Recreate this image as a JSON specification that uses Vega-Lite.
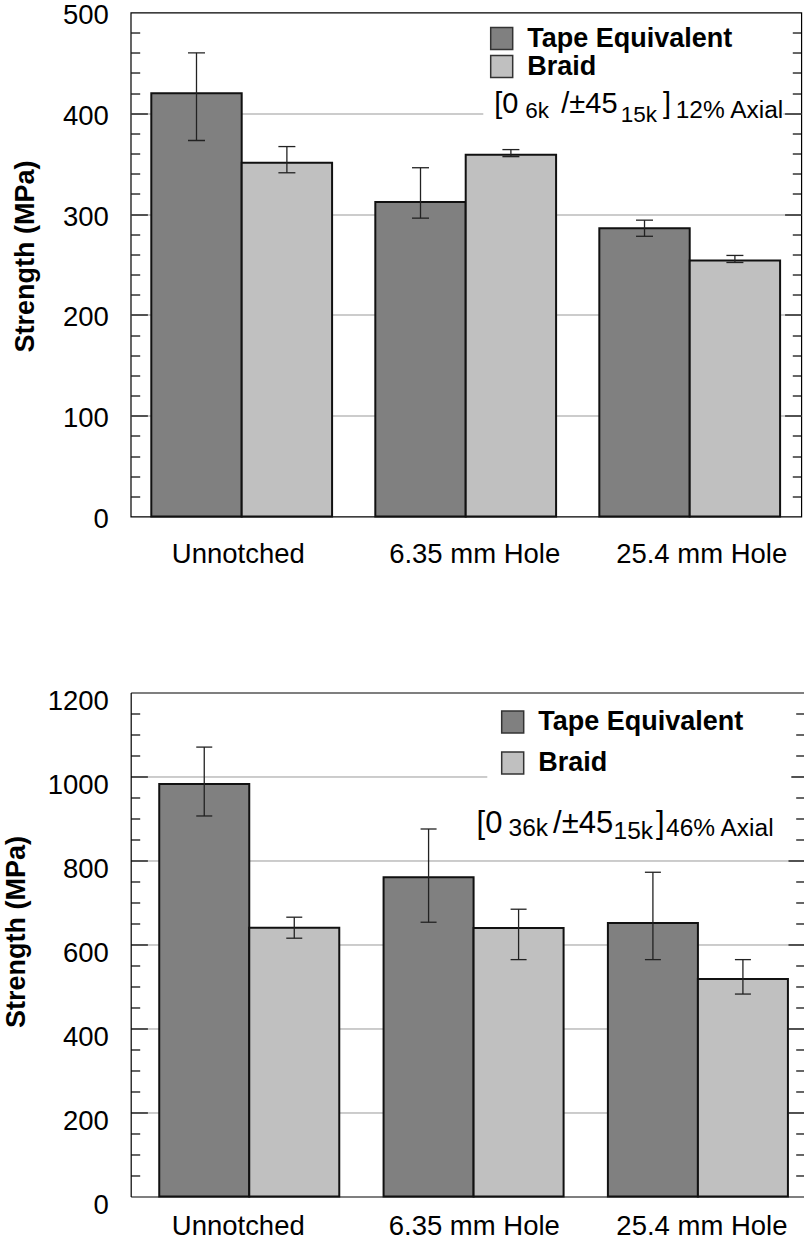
{
  "$schema": "https://vega.github.io/schema/vega-lite/v6.json",
  "padding": {"left": 2.7, "top": 0.5, "right": 0, "bottom": 0},
  "background": "white",
  "config": {
    "font": "Liberation Sans",
    "view": {"stroke": "black", "strokeWidth": 1.2},
    "axis": {"labelFont": "Liberation Sans", "titleFont": "Liberation Sans", "labelColor": "black", "titleColor": "black", "tickColor": "black", "domainColor": "black", "tickWidth": 1.2, "domainWidth": 1.2, "gridColor": "#999999", "gridWidth": 1, "gridOpacity": 1},
    "legend": {"labelFont": "Liberation Sans"},
    "text": {"font": "Liberation Sans", "color": "black"}
  },
  "datasets": {
    "top": [
      {"cond": "Unnotched", "series": "Tape Equivalent", "value": 420, "lo": 373, "hi": 460},
      {"cond": "Unnotched", "series": "Braid", "value": 351, "lo": 341, "hi": 367},
      {"cond": "6.35 mm Hole", "series": "Tape Equivalent", "value": 312, "lo": 296, "hi": 346},
      {"cond": "6.35 mm Hole", "series": "Braid", "value": 359, "lo": 357, "hi": 364},
      {"cond": "25.4 mm Hole", "series": "Tape Equivalent", "value": 286, "lo": 278, "hi": 294},
      {"cond": "25.4 mm Hole", "series": "Braid", "value": 254, "lo": 252, "hi": 259}
    ],
    "bottom": [
      {"cond": "Unnotched", "series": "Tape Equivalent", "value": 982, "lo": 906, "hi": 1070},
      {"cond": "Unnotched", "series": "Braid", "value": 640, "lo": 615, "hi": 665},
      {"cond": "6.35 mm Hole", "series": "Tape Equivalent", "value": 760, "lo": 653, "hi": 875},
      {"cond": "6.35 mm Hole", "series": "Braid", "value": 639, "lo": 564, "hi": 684},
      {"cond": "25.4 mm Hole", "series": "Tape Equivalent", "value": 651, "lo": 564, "hi": 772},
      {"cond": "25.4 mm Hole", "series": "Braid", "value": 518, "lo": 482, "hi": 564}
    ]
  },
  "columns": 1,
  "align": "none",
  "spacing": 118,
  "resolve": {
    "scale": {"x": "independent", "y": "independent", "color": "independent", "xOffset": "independent"},
    "legend": {"color": "independent"},
    "axis": {"x": "independent", "y": "independent"}
  },
  "concat": [
    {
      "width": 670.6,
      "height": 504,
      "data": {"name": "top"},
      "resolve": {"axis": {"x": "independent", "y": "independent"}},
      "layer": [
        {
          "data": {"values": [{}]},
          "mark": {"type": "rect", "fill": "white", "stroke": null, "opacity": 1, "xOffset": 17.6, "x2Offset": 93.6},
          "encoding": {
            "x": {"datum": "6.35 mm Hole", "type": "nominal", "scale": {"domain": ["Unnotched", "6.35 mm Hole", "25.4 mm Hole"], "paddingInner": 0.193, "paddingOuter": 0.0933, "align": 0.493}, "axis": null},
            "x2": {"datum": "25.4 mm Hole"},
            "y": {"datum": 385, "type": "quantitative", "scale": {"domain": [0, 500], "nice": false, "zero": true},
              "axis": {"orient": "right", "values": [20, 40, 60, 80, 120, 140, 160, 180, 220, 240, 260, 280, 320, 340, 360, 380, 420, 440, 460, 480], "ticks": true, "tickSize": -9, "labels": false, "domain": false, "grid": false, "title": null}},
            "y2": {"datum": 415}
          }
        },
        {
          "mark": {"type": "bar", "stroke": "#111111", "strokeWidth": 2, "opacity": 1},
          "encoding": {
            "x": {"field": "cond", "type": "nominal", "title": null,
              "scale": {"domain": ["Unnotched", "6.35 mm Hole", "25.4 mm Hole"], "paddingInner": 0.193, "paddingOuter": 0.0933, "align": 0.493},
              "axis": {"orient": "bottom", "title": null, "ticks": false, "domain": false, "grid": false, "labels": true, "labelFontSize": 27.5, "labelPadding": 46, "labelBaseline": "alphabetic", "labelAngle": 0, "labelLimit": 400,
                "labelOffset": {"condition": [{"test": "datum.value === '6.35 mm Hole'", "value": 9}, {"test": "datum.value === '25.4 mm Hole'", "value": 12}], "value": -3.4}}},
            "xOffset": {"field": "series", "type": "nominal", "scale": {"domain": ["Tape Equivalent", "Braid"]}},
            "y": {"field": "value", "type": "quantitative", "scale": {"domain": [0, 500], "nice": false, "zero": true},
              "axis": {"orient": "left", "values": [0, 100, 200, 300, 400, 500], "format": "d", "ticks": false, "domain": false, "grid": false, "labelFontSize": 27.5, "labelPadding": 22.4, "labelOffset": 3, "labelBaseline": "middle",
                "title": "Strength (MPa)", "titleFontSize": 27, "titleFontWeight": "bold", "titleAngle": -90, "titleAlign": "center", "titleBaseline": "top", "titleX": -118.4, "titleY": 243.5}},
            "color": {"field": "series", "type": "nominal", "scale": {"domain": ["Tape Equivalent", "Braid"], "range": ["#808080", "#c0c0c0"]},
              "legend": {"orient": "none", "legendX": 357.5, "legendY": 12.5, "title": null, "symbolType": "square", "symbolSize": 484, "symbolStrokeColor": "#333333", "symbolStrokeWidth": 1.5, "symbolOpacity": 1, "labelFontSize": 27, "labelFontWeight": "bold", "labelColor": "black", "labelOffset": 12, "labelLimit": 400, "rowPadding": -2, "padding": 0}}
          }
        },
        {
          "mark": {"type": "rule", "color": "#222222", "strokeWidth": 1.3, "opacity": 1},
          "encoding": {
            "x": {"field": "cond", "type": "nominal", "scale": {"domain": ["Unnotched", "6.35 mm Hole", "25.4 mm Hole"], "paddingInner": 0.193, "paddingOuter": 0.0933, "align": 0.493}, "axis": null},
            "xOffset": {"field": "series", "type": "nominal", "scale": {"domain": ["Tape Equivalent", "Braid"]}},
            "y": {"field": "lo", "type": "quantitative", "scale": {"domain": [0, 500], "nice": false, "zero": true},
              "axis": {"orient": "left", "values": [100, 200, 300, 400], "ticks": true, "tickSize": -16.7, "labels": false, "domain": false, "grid": true, "title": null}},
            "y2": {"field": "hi"}
          }
        },
        {
          "mark": {"type": "tick", "color": "#222222", "size": 17, "thickness": 1.3, "opacity": 1},
          "encoding": {
            "x": {"field": "cond", "type": "nominal", "scale": {"domain": ["Unnotched", "6.35 mm Hole", "25.4 mm Hole"], "paddingInner": 0.193, "paddingOuter": 0.0933, "align": 0.493}, "axis": null},
            "xOffset": {"field": "series", "type": "nominal", "scale": {"domain": ["Tape Equivalent", "Braid"]}},
            "y": {"field": "lo", "type": "quantitative", "scale": {"domain": [0, 500], "nice": false, "zero": true},
              "axis": {"orient": "left", "values": [20, 40, 60, 80, 120, 140, 160, 180, 220, 240, 260, 280, 320, 340, 360, 380, 420, 440, 460, 480], "ticks": true, "tickSize": -9, "labels": false, "domain": false, "grid": false, "title": null}}
          }
        },
        {
          "mark": {"type": "tick", "color": "#222222", "size": 17, "thickness": 1.3, "opacity": 1},
          "encoding": {
            "x": {"field": "cond", "type": "nominal", "scale": {"domain": ["Unnotched", "6.35 mm Hole", "25.4 mm Hole"], "paddingInner": 0.193, "paddingOuter": 0.0933, "align": 0.493}, "axis": null},
            "xOffset": {"field": "series", "type": "nominal", "scale": {"domain": ["Tape Equivalent", "Braid"]}},
            "y": {"field": "hi", "type": "quantitative", "scale": {"domain": [0, 500], "nice": false, "zero": true},
              "axis": {"orient": "right", "values": [100, 200, 300, 400], "ticks": true, "tickSize": -16.7, "labels": false, "domain": false, "grid": false, "title": null}}
          }
        },
        {
          "data": {"values": [{"t": "[0"}]},
          "mark": {"type": "text", "align": "left", "baseline": "alphabetic", "dx": 28.6, "dy": 0, "fontSize": 29, "color": "black"},
          "encoding": {"text": {"field": "t"}, "x": {"datum": "6.35 mm Hole", "type": "nominal", "axis": null}, "y": {"datum": 400, "type": "quantitative", "axis": null}}
        },
        {
          "data": {"values": [{"t": "6k"}]},
          "mark": {"type": "text", "align": "left", "baseline": "alphabetic", "dx": 59.6, "dy": 4.7, "fontSize": 22.5, "color": "black"},
          "encoding": {"text": {"field": "t"}, "x": {"datum": "6.35 mm Hole", "type": "nominal", "axis": null}, "y": {"datum": 400, "type": "quantitative", "axis": null}}
        },
        {
          "data": {"values": [{"t": "/±45"}]},
          "mark": {"type": "text", "align": "left", "baseline": "alphabetic", "dx": 95.6, "dy": 0, "fontSize": 29, "color": "black"},
          "encoding": {"text": {"field": "t"}, "x": {"datum": "6.35 mm Hole", "type": "nominal", "axis": null}, "y": {"datum": 400, "type": "quantitative", "axis": null}}
        },
        {
          "data": {"values": [{"t": "15k"}]},
          "mark": {"type": "text", "align": "left", "baseline": "alphabetic", "dx": 155, "dy": 8.7, "fontSize": 22.5, "color": "black"},
          "encoding": {"text": {"field": "t"}, "x": {"datum": "6.35 mm Hole", "type": "nominal", "axis": null}, "y": {"datum": 400, "type": "quantitative", "axis": null}}
        },
        {
          "data": {"values": [{"t": "]"}]},
          "mark": {"type": "text", "align": "left", "baseline": "alphabetic", "dx": 197.2, "dy": 0, "fontSize": 29, "color": "black"},
          "encoding": {"text": {"field": "t"}, "x": {"datum": "6.35 mm Hole", "type": "nominal", "axis": null}, "y": {"datum": 400, "type": "quantitative", "axis": null}}
        },
        {
          "data": {"values": [{"t": "12% Axial"}]},
          "mark": {"type": "text", "align": "left", "baseline": "alphabetic", "dx": 210, "dy": 5, "fontSize": 24.5, "color": "black"},
          "encoding": {"text": {"field": "t"}, "x": {"datum": "6.35 mm Hole", "type": "nominal", "axis": null}, "y": {"datum": 400, "type": "quantitative", "axis": null}}
        }
      ]
    },
    {
      "width": 674,
      "height": 504,
      "view": {"stroke": null},
      "data": {"name": "bottom"},
      "resolve": {"axis": {"x": "independent", "y": "independent"}},
      "layer": [
        {
          "data": {"values": [{}]},
          "mark": {"type": "rect", "fill": "white", "stroke": null, "opacity": 1, "xOffset": 13.7, "x2Offset": 93.4},
          "encoding": {
            "x": {"datum": "6.35 mm Hole", "type": "nominal", "scale": {"domain": ["Unnotched", "6.35 mm Hole", "25.4 mm Hole"], "paddingInner": 0.1975, "paddingOuter": 0.101, "align": 0.63}, "axis": null},
            "x2": {"datum": "25.4 mm Hole"},
            "y": {"datum": 965, "type": "quantitative", "scale": {"domain": [0, 1200], "nice": false, "zero": true},
              "axis": {"orient": "right", "values": [50, 100, 150, 250, 300, 350, 450, 500, 550, 650, 700, 750, 850, 900, 950, 1050, 1100, 1150], "ticks": true, "tickSize": -9, "labels": false, "domain": false, "grid": false, "title": null}},
            "y2": {"datum": 1035}
          }
        },
        {
          "mark": {"type": "bar", "stroke": "#111111", "strokeWidth": 2, "opacity": 1},
          "encoding": {
            "x": {"field": "cond", "type": "nominal", "title": null,
              "scale": {"domain": ["Unnotched", "6.35 mm Hole", "25.4 mm Hole"], "paddingInner": 0.1975, "paddingOuter": 0.101, "align": 0.63},
              "axis": {"orient": "bottom", "title": null, "ticks": false, "domain": true, "grid": false, "labelFontSize": 27.5, "labelPadding": 38.5, "labelBaseline": "alphabetic", "labelAngle": 0, "labelLimit": 400,
                "labelOffset": {"condition": [{"test": "datum.value === '6.35 mm Hole'", "value": 0.7}, {"test": "datum.value === '25.4 mm Hole'", "value": 4}], "value": -11}}},
            "xOffset": {"field": "series", "type": "nominal", "scale": {"domain": ["Tape Equivalent", "Braid"]}},
            "y": {"field": "value", "type": "quantitative", "scale": {"domain": [0, 1200], "nice": false, "zero": true},
              "axis": {"orient": "left", "values": [0, 200, 400, 600, 800, 1000, 1200], "format": "d", "ticks": false, "domain": true, "grid": false, "labelFontSize": 27.5, "labelPadding": 22.4, "labelOffset": 9, "labelBaseline": "middle",
                "title": "Strength (MPa)", "titleFontSize": 27, "titleFontWeight": "bold", "titleAngle": -90, "titleAlign": "center", "titleBaseline": "top", "titleX": -126.7, "titleY": 239}},
            "color": {"field": "series", "type": "nominal", "scale": {"domain": ["Tape Equivalent", "Braid"], "range": ["#808080", "#c0c0c0"]},
              "legend": {"orient": "none", "legendX": 368.5, "legendY": 16, "title": null, "symbolType": "square", "symbolSize": 484, "symbolStrokeColor": "#333333", "symbolStrokeWidth": 1.5, "symbolOpacity": 1, "labelFontSize": 27, "labelFontWeight": "bold", "labelColor": "black", "labelOffset": 12, "labelLimit": 400, "rowPadding": 12, "padding": 0}}
          }
        },
        {
          "mark": {"type": "rule", "color": "#222222", "strokeWidth": 1.3, "opacity": 1},
          "encoding": {
            "x": {"field": "cond", "type": "nominal", "scale": {"domain": ["Unnotched", "6.35 mm Hole", "25.4 mm Hole"], "paddingInner": 0.1975, "paddingOuter": 0.101, "align": 0.63},
              "axis": {"orient": "top", "labels": false, "ticks": false, "domain": true, "grid": false, "title": null}},
            "xOffset": {"field": "series", "type": "nominal", "scale": {"domain": ["Tape Equivalent", "Braid"]}},
            "y": {"field": "lo", "type": "quantitative", "scale": {"domain": [0, 1200], "nice": false, "zero": true},
              "axis": {"orient": "left", "values": [200, 400, 600, 800, 1000], "ticks": true, "tickSize": -16.7, "labels": false, "domain": false, "grid": true, "title": null}},
            "y2": {"field": "hi"}
          }
        },
        {
          "mark": {"type": "tick", "color": "#222222", "size": 16, "thickness": 1.3, "opacity": 1},
          "encoding": {
            "x": {"field": "cond", "type": "nominal", "scale": {"domain": ["Unnotched", "6.35 mm Hole", "25.4 mm Hole"], "paddingInner": 0.1975, "paddingOuter": 0.101, "align": 0.63}, "axis": null},
            "xOffset": {"field": "series", "type": "nominal", "scale": {"domain": ["Tape Equivalent", "Braid"]}},
            "y": {"field": "lo", "type": "quantitative", "scale": {"domain": [0, 1200], "nice": false, "zero": true},
              "axis": {"orient": "left", "values": [50, 100, 150, 250, 300, 350, 450, 500, 550, 650, 700, 750, 850, 900, 950, 1050, 1100, 1150], "ticks": true, "tickSize": -9, "labels": false, "domain": false, "grid": false, "title": null}}
          }
        },
        {
          "mark": {"type": "tick", "color": "#222222", "size": 16, "thickness": 1.3, "opacity": 1},
          "encoding": {
            "x": {"field": "cond", "type": "nominal", "scale": {"domain": ["Unnotched", "6.35 mm Hole", "25.4 mm Hole"], "paddingInner": 0.1975, "paddingOuter": 0.101, "align": 0.63}, "axis": null},
            "xOffset": {"field": "series", "type": "nominal", "scale": {"domain": ["Tape Equivalent", "Braid"]}},
            "y": {"field": "hi", "type": "quantitative", "scale": {"domain": [0, 1200], "nice": false, "zero": true},
              "axis": {"orient": "right", "values": [200, 400, 600, 800, 1000], "ticks": true, "tickSize": -16.7, "labels": false, "domain": false, "grid": false, "title": null}}
          }
        },
        {
          "data": {"values": [{"t": "[0"}]},
          "mark": {"type": "text", "align": "left", "baseline": "alphabetic", "dx": 3, "dy": 0, "fontSize": 31, "color": "black"},
          "encoding": {"text": {"field": "t"}, "x": {"datum": "6.35 mm Hole", "type": "nominal", "axis": null}, "y": {"datum": 865, "type": "quantitative", "axis": null}}
        },
        {
          "data": {"values": [{"t": "36k"}]},
          "mark": {"type": "text", "align": "left", "baseline": "alphabetic", "dx": 35, "dy": 2.7, "fontSize": 24.5, "color": "black"},
          "encoding": {"text": {"field": "t"}, "x": {"datum": "6.35 mm Hole", "type": "nominal", "axis": null}, "y": {"datum": 865, "type": "quantitative", "axis": null}}
        },
        {
          "data": {"values": [{"t": "/±45"}]},
          "mark": {"type": "text", "align": "left", "baseline": "alphabetic", "dx": 79.5, "dy": 0, "fontSize": 31, "color": "black"},
          "encoding": {"text": {"field": "t"}, "x": {"datum": "6.35 mm Hole", "type": "nominal", "axis": null}, "y": {"datum": 865, "type": "quantitative", "axis": null}}
        },
        {
          "data": {"values": [{"t": "15k"}]},
          "mark": {"type": "text", "align": "left", "baseline": "alphabetic", "dx": 140, "dy": 6, "fontSize": 24.5, "color": "black"},
          "encoding": {"text": {"field": "t"}, "x": {"datum": "6.35 mm Hole", "type": "nominal", "axis": null}, "y": {"datum": 865, "type": "quantitative", "axis": null}}
        },
        {
          "data": {"values": [{"t": "]"}]},
          "mark": {"type": "text", "align": "left", "baseline": "alphabetic", "dx": 182.5, "dy": 0, "fontSize": 31, "color": "black"},
          "encoding": {"text": {"field": "t"}, "x": {"datum": "6.35 mm Hole", "type": "nominal", "axis": null}, "y": {"datum": 865, "type": "quantitative", "axis": null}}
        },
        {
          "data": {"values": [{"t": "46% Axial"}]},
          "mark": {"type": "text", "align": "left", "baseline": "alphabetic", "dx": 192.5, "dy": 2.7, "fontSize": 24.5, "color": "black"},
          "encoding": {"text": {"field": "t"}, "x": {"datum": "6.35 mm Hole", "type": "nominal", "axis": null}, "y": {"datum": 865, "type": "quantitative", "axis": null}}
        }
      ]
    }
  ]
}
